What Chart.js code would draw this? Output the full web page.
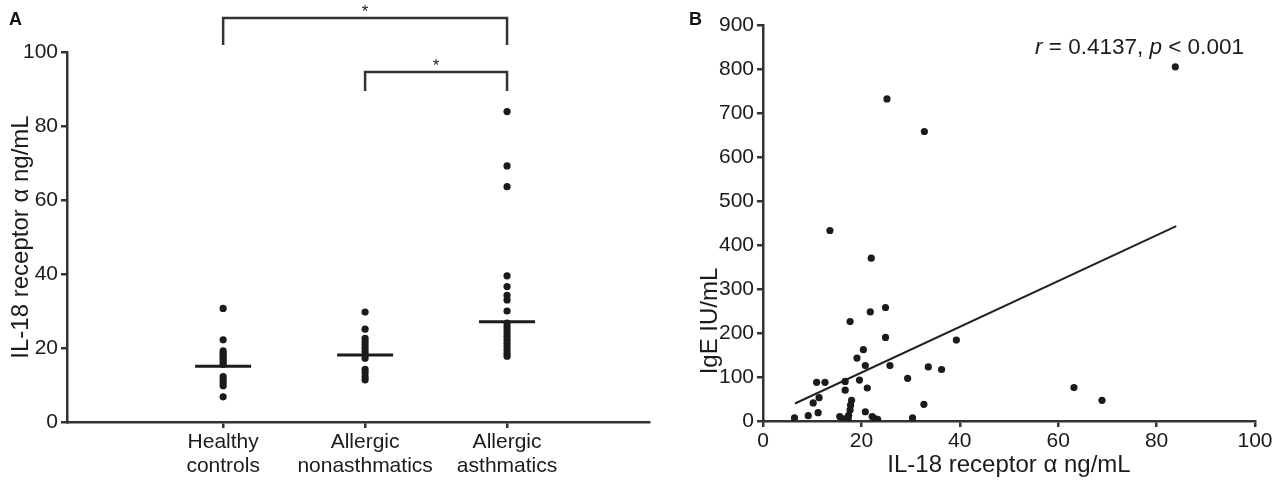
<!DOCTYPE html>
<html>
<head>
<meta charset="utf-8">
<script src="https://cdn.jsdelivr.net/npm/chart.js@4.4.0/dist/chart.umd.min.js"></script>
<style>
body{margin:0;background:#fff;width:1286px;height:484px;position:relative;overflow:hidden}
#chartA{position:absolute;left:0;top:0}
#chartB{position:absolute;left:660px;top:0}
.tag{position:absolute;font:bold 18px "Liberation Sans",Arial,sans-serif;color:#111}
</style>
</head>
<body>
<canvas id="chartA" width="660" height="484"></canvas>
<canvas id="chartB" width="626" height="484"></canvas>
<div class="tag" style="left:9px;top:9px">A</div>
<div class="tag" style="left:689px;top:9px">B</div>
<script>
// ---- panel A data ----
const groupLabels = [["Healthy","controls"],["Allergic","nonasthmatics"],["Allergic","asthmatics"]]
const healthy = [30.7,22.2,19.2,18.6,18.0,17.4,16.8,16.2,15.6,12.3,11.5,10.7,9.8,6.8]
const nonAsthma = [29.7,25.1,22.6,21.7,20.8,19.9,19.0,18.1,17.2,14.2,13.3,12.2,11.4]
const asthma = [83.9,69.2,63.6,39.5,36.6,34.2,33.0,30.0,26.7,25.8,24.9,24.0,23.1,22.2,21.3,20.4,19.5,18.6,17.8]
const centerLines = [15.1,18.1,27.1]
const comparisons = [[1,3],[2,3]]
const bracketLevels = [109.2,94.6]
const sigMarks = ["*","*"]

// ---- panel B data ----
const il18 = [6.4,9.2,10.2,11.2,11.4,10.9,12.6,13.6,15.6,16.6,17.3,17.4,17.7,17.8,18.0,16.7,16.7,17.7,19.1,19.6,20.4,20.8,20.8,21.2,21.8,22.0,22.2,22.6,23.3,24.9,24.9,25.2,25.8,29.4,30.4,32.7,32.8,33.6,36.3,39.3,63.2,68.9,83.8]
const ige = [7,12,41,19,53,88,88,433,10,5,5,13,25,36,47,70,90,226,143,93,162,126,21,75,248,370,10,6,4,258,190,732,126,97,7,38,658,123,117,184,76,47,805]
const fitSlope = 5.2
const fitIntercept = 6
const fitRange = [6.5,84]
const statText = [["r",true],[" = 0.4137, ",false],["p",true],[" < 0.001",false]]

const ink = "#1c1a1b"
const axisInk = "#333"
const fontFam = "'Liberation Sans', Arial, sans-serif"
const tickSize = 21
const titleSize = 24

Chart.defaults.font.family = fontFam
Chart.defaults.color = ink

function axisStyle(){
return {
border:{display:true,color:axisInk,width:2.5},
grid:{drawOnChartArea:false,drawTicks:true,tickLength:6,color:axisInk,lineWidth:2.5}
}
}

// mean bars + significance brackets
const groupMarks = {
id:"groupMarks",
afterDatasetsDraw(chart){
const {ctx,scales:{x,y}} = chart
ctx.save()
ctx.strokeStyle = ink
ctx.lineWidth = 3
centerLines.forEach((m,i)=>{
const cx = x.getPixelForValue(i+1), cy = y.getPixelForValue(m)
ctx.beginPath(); ctx.moveTo(cx-28,cy); ctx.lineTo(cx+28,cy); ctx.stroke()
})
ctx.strokeStyle = axisInk
ctx.lineWidth = 2.5
ctx.fillStyle = ink
ctx.font = "17px "+fontFam
ctx.textAlign = "center"
ctx.textBaseline = "alphabetic"
const legs = [27,19]
comparisons.forEach(([a,b],k)=>{
const x1 = x.getPixelForValue(a), x2 = x.getPixelForValue(b)
const ly = y.getPixelForValue(bracketLevels[k])
ctx.beginPath()
ctx.moveTo(x1,ly+legs[k]); ctx.lineTo(x1,ly); ctx.lineTo(x2,ly); ctx.lineTo(x2,ly+legs[k])
ctx.stroke()
ctx.fillText(sigMarks[k],(x1+x2)/2,ly-1)
})
ctx.restore()
}
}

new Chart(document.getElementById("chartA"),{
type:"scatter",
data:{
datasets:[healthy,nonAsthma,asthma].map((vals,i)=>({
data:vals.map(v=>({x:i+1,y:v})),
backgroundColor:ink,
borderWidth:0,
pointRadius:3.6
}))
},
options:{
responsive:false,
animation:false,
layout:{padding:{top:52,right:11,left:0,bottom:0}},
plugins:{legend:{display:false},tooltip:{enabled:false}},
scales:{
x:{
type:"linear",min:-0.1,max:4,
...axisStyle(),
afterBuildTicks:(ax)=>{ax.ticks=[1,2,3].map(v=>({value:v}))},
afterFit:(ax)=>{ax.height=62},
ticks:{
font:{size:tickSize,lineHeight:1.15},color:ink,padding:2,maxRotation:0,autoSkip:false,
callback:(v)=>groupLabels[v-1]
}
},
y:{
min:0,max:100,
...axisStyle(),
afterFit:(ax)=>{ax.width=67},
ticks:{stepSize:20,font:{size:tickSize},color:ink,padding:3},
title:{display:true,text:"IL-18 receptor α ng/mL",font:{size:titleSize},color:ink,padding:{top:7,bottom:0}}
}
}
},
plugins:[groupMarks]
})

// correlation text + y title of panel B
const statLabel = {
id:"statLabel",
afterDraw(chart){
const {ctx,chartArea} = chart
ctx.save()
ctx.fillStyle = ink
ctx.textBaseline = "alphabetic"
ctx.textAlign = "left"
let px = 375
statText.forEach(([t,it])=>{
ctx.font = (it?"italic ":"")+"22.5px "+fontFam
ctx.fillText(t,px,54)
px += ctx.measureText(t).width
})
ctx.translate(50,chartArea.bottom-100)
ctx.rotate(-Math.PI/2)
ctx.textAlign = "center"
ctx.textBaseline = "middle"
ctx.font = titleSize+"px "+fontFam
ctx.fillText("IgE IU/mL",0,0)
ctx.restore()
}
}

new Chart(document.getElementById("chartB"),{
type:"scatter",
data:{
datasets:[
{
data:il18.map((v,i)=>({x:v,y:ige[i]})),
backgroundColor:ink,
borderWidth:0,
pointRadius:3.6
},
{
type:"line",
data:fitRange.map(v=>({x:v,y:fitSlope*v+fitIntercept})),
borderColor:"#222",
borderWidth:2,
pointRadius:0,
fill:false
}
]
},
options:{
responsive:false,
animation:false,
layout:{padding:{top:25,right:31,left:0,bottom:0}},
plugins:{legend:{display:false},tooltip:{enabled:false}},
scales:{
x:{
type:"linear",min:0,max:100,
...axisStyle(),
afterFit:(ax)=>{ax.height=63},
ticks:{stepSize:20,font:{size:tickSize},color:ink,padding:2,maxRotation:0},
title:{display:true,text:"IL-18 receptor α ng/mL",font:{size:titleSize},color:ink,padding:{top:0,bottom:4}}
},
y:{
min:0,max:900,
...axisStyle(),
afterFit:(ax)=>{ax.width=103},
ticks:{stepSize:100,font:{size:tickSize},color:ink,padding:3}
}
}
},
plugins:[statLabel]
})
</script>
</body>
</html>
